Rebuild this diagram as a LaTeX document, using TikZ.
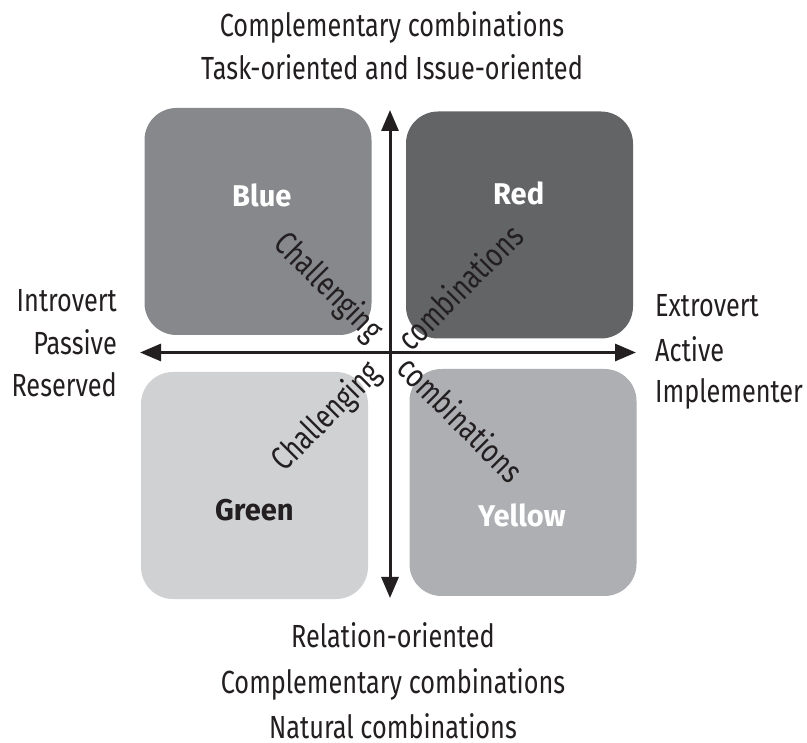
\documentclass[tikz,border=0pt]{standalone}
\usepackage{fontspec}
\setmainfont{Fira Sans}[FakeStretch=0.79]
\newfontfamily\labfont{Fira Sans}[FakeStretch=0.97]
\usetikzlibrary{arrows.meta}
\definecolor{cblue}{HTML}{87888C}
\definecolor{cred}{HTML}{636466}
\definecolor{cgreen}{HTML}{D0D1D3}
\definecolor{cyellow}{HTML}{AEAFB2}
\definecolor{ink}{HTML}{231F20}
\tikzset{
  quad/.style={rounded corners=32pt, inner sep=0pt, minimum width=227pt, minimum height=227pt},
  lab/.style={font=\labfont\fontsize{30}{30}\selectfont\bfseries, inner sep=0pt, anchor=base west},
  txt/.style={font=\fontsize{32}{32}\selectfont, text=ink, inner sep=0pt},
  diag/.style={font=\fontsize{33}{33}\selectfont, text=ink, inner sep=0pt},
  axis/.style={line width=3pt, draw=ink, {Triangle[length=21pt,width=17pt]}-{Triangle[length=21pt,width=17pt]}}
}
\begin{document}
\begin{tikzpicture}[x=1pt,y=-1pt]
\useasboundingbox[fill=white] (0,0) rectangle (807,743);
\node[quad, fill=cblue] (blue) at (258,221.5) {};
\node[quad, fill=cred] (red) at (519.5,225) {};
\node[quad, fill=cgreen] (green) at (254.5,485.5) {};
\node[quad, fill=cyellow] (yellow) at (523,482.5) {};
\node[lab, text=white] (tblue) at (232,207) {Blue};
\node[lab, text=white] (tred) at (493,205) {Red};
\node[lab, text=ink] (tgreen) at (215,521) {Green};
\node[lab, text=white] (tyellow) at (478,527) {Yellow};
\coordinate (top) at (390,110);
\coordinate (bot) at (390,598);
\coordinate (lft) at (140,352.5);
\coordinate (rgt) at (636,352.5);
\draw[axis] (top) -- (bot);
\draw[axis] (lft) -- (rgt);
\node[diag, rotate=-45] (c1) at (328,288) {Challenging};
\node[diag, rotate=45] (c2) at (460,287) {combinations};
\node[diag, rotate=45] (c3) at (327,417) {Challenging};
\node[diag, rotate=-45] (c4) at (461,419) {combinations};
\node[txt, anchor=base] (t1) at (392,37) {Complementary combinations};
\node[txt, anchor=base] (t2) at (392,80) {Task-oriented and Issue-oriented};
\node[txt, anchor=base east] (l1) at (117,312) {Introvert};
\node[txt, anchor=base east] (l2) at (117,355) {Passive};
\node[txt, anchor=base east] (l3) at (117,397) {Reserved};
\node[txt, anchor=base west] (r1) at (655,317) {Extrovert};
\node[txt, anchor=base west] (r2) at (655,362) {Active};
\node[txt, anchor=base west] (r3) at (655,403) {Implementer};
\node[txt, anchor=base] (b1) at (393,647) {Relation-oriented};
\node[txt, anchor=base] (b2) at (393,693) {Complementary combinations};
\node[txt, anchor=base] (b3) at (393,738) {Natural combinations};
\end{tikzpicture}
\end{document}
